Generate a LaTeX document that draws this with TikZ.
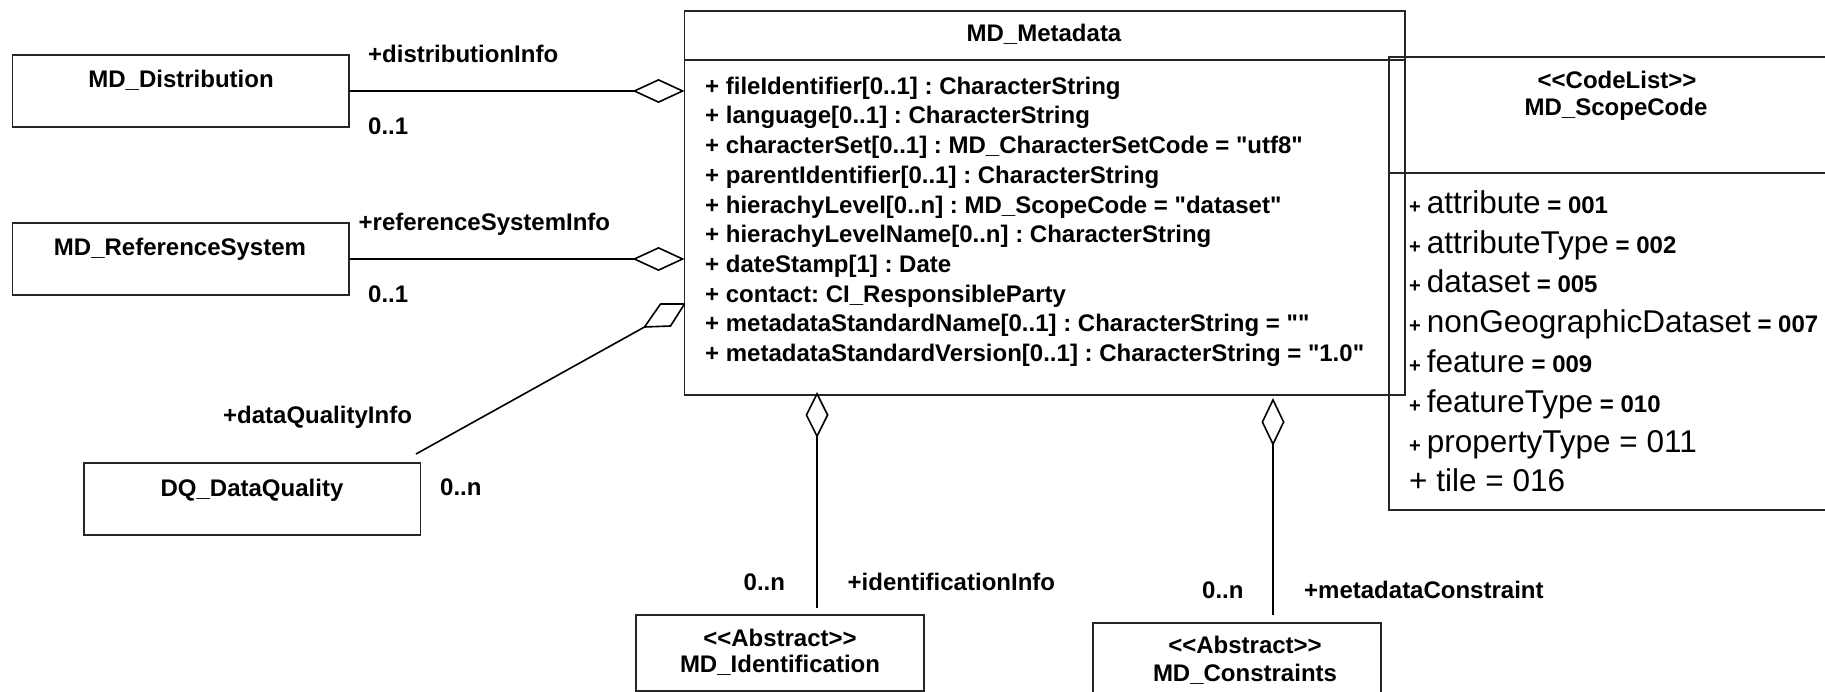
\documentclass[tikz,border=0pt]{standalone}
\usepackage{fontspec}
\setmainfont{Liberation Sans}[Ligatures=TeXOff]
\usetikzlibrary{arrows.meta}
\newcommand\umlbf{\fontsize{24}{28}\selectfont\bfseries}
\newcommand\umlrg{\fontsize{31.5}{36}\selectfont\mdseries}
\newcommand\umlpl{\fontsize{20}{24}\selectfont\bfseries}
\frenchspacing
\begin{document}
\begin{tikzpicture}[x=1pt,y=-1pt,
  box/.style={draw=black!85, line width=1.3pt, inner sep=0pt, outer sep=0pt},
  conn/.style={draw=black, line width=1.6pt},
  hagg/.style={-{Diamond[open,length=52pt,width=24pt]}},
  vagg/.style={-{Diamond[open,length=46pt,width=23pt]}},
  lbl/.style={font=\umlbf, inner sep=0pt, anchor=base west},
  ttl/.style={font=\umlbf, inner sep=0pt, anchor=base},
  att/.style={font=\umlbf, inner sep=0pt, anchor=base west},
  sat/.style={inner sep=0pt, anchor=base west}
]
\useasboundingbox (0,0) rectangle (1825,692);
\clip (0,0) rectangle (1825,692);

% boxes
\node[box, minimum width=336.5pt, minimum height=72pt] (dist) at (180.75,91) {};
\node[box, minimum width=336.5pt, minimum height=72pt] (refsys) at (180.75,259) {};
\node[box, minimum width=336.5pt, minimum height=72pt] (dq) at (252.25,499) {};
\node[box, minimum width=720.5pt, minimum height=384pt] (meta) at (1044.75,203) {};
\draw[box] ([yshift=-49pt]meta.north west) -- ([yshift=-49pt]meta.north east);
\node[box, minimum width=456pt, minimum height=453pt] (scope) at (1617,283.5) {};
\draw[box] ([yshift=-116pt]scope.north west) -- ([yshift=-116pt]scope.north east);
\node[box, minimum width=288pt, minimum height=76pt] (ident) at (780,653) {};
\node[box, minimum width=288pt, minimum height=77pt] (constr) at (1237,661.5) {};

% class names
\node[ttl] (tdist) at (181,87.3) {MD\_Distribution};
\node[ttl] (trefsys) at (180,256) {MD\_ReferenceSystem};
\node[ttl] (tdq) at (252,496) {DQ\_DataQuality};
\node[ttl] (tmeta) at (1044,41.7) {MD\_Metadata};
\node[ttl] (sident) at (780,646.7) {<{}<Abstract>{}>};
\node[ttl] (tident) at (780,672.7) {MD\_Identification};
\node[ttl] (sconstr) at (1245,653.3) {<{}<Abstract>{}>};
\node[ttl] (tconstr) at (1245,681.7) {MD\_Constraints};
\node[ttl] (sscope) at (1617,88.3) {<{}<CodeList>{}>};
\node[ttl] (tscope) at (1616,116) {MD\_ScopeCode};

% metadata attributes
\node[att] (a1) at (705,94.3) {+ fileIdentifier[0..1] : CharacterString};
\node[att] (a2) at (705,124.0) {+ language[0..1] : CharacterString};
\node[att] (a3) at (705,153.7) {+ characterSet[0..1] : MD\_CharacterSetCode = "utf8"};
\node[att] (a4) at (705,183.4) {+ parentIdentifier[0..1] : CharacterString};
\node[att] (a5) at (705,213.1) {+ hierachyLevel[0..n] : MD\_ScopeCode = "dataset"};
\node[att] (a6) at (705,242.8) {+ hierachyLevelName[0..n] : CharacterString};
\node[att] (a7) at (705,272.5) {+ dateStamp[1] : Date};
\node[att] (a8) at (705,302.2) {+ contact: CI\_ResponsibleParty};
\node[att] (a9) at (705,331.9) {+ metadataStandardName[0..1] : CharacterString = ""};
\node[att] (a10) at (705,361.6) {+ metadataStandardVersion[0..1] : CharacterString = "1.0"};

% scope code values
\node[sat] (s1) at (1409,213.3) {{\umlpl +}\hspace{6pt}{\umlrg attribute}{\umlbf\ = 001}};
\node[sat] (s2) at (1409,253.1) {{\umlpl +}\hspace{6pt}{\umlrg attributeType}{\umlbf\ = 002}};
\node[sat] (s3) at (1409,292.9) {{\umlpl +}\hspace{6pt}{\umlrg dataset}{\umlbf\ = 005}};
\node[sat] (s4) at (1409,332.7) {{\umlpl +}\hspace{6pt}{\umlrg nonGeographicDataset}{\umlbf\ = 007}};
\node[sat] (s5) at (1409,372.5) {{\umlpl +}\hspace{6pt}{\umlrg feature}{\umlbf\ = 009}};
\node[sat] (s6) at (1409,412.3) {{\umlpl +}\hspace{6pt}{\umlrg featureType}{\umlbf\ = 010}};
\node[sat] (s7) at (1409,452.1) {{\umlpl +}\hspace{6pt}{\umlrg propertyType = 011}};
\node[sat] (s8) at (1409,491.9) {{\umlrg + tile = 016}};

% connectors
\draw[conn, hagg] (dist.east) -- (dist.east -| meta.west);
\draw[conn, hagg] (refsys.east) -- (refsys.east -| meta.west);

\coordinate (dqtip) at ([yshift=-293pt]meta.north west);
\coordinate (dqend) at ([shift={(-4.5pt,9pt)}]dq.north east);
\draw[conn, line join=round] (dqtip) -- ++(-24,0) -- ++(-16,23) -- ++(26,-1) -- cycle;
\draw[conn] ([shift={(-40,23)}]dqtip) -- (dqend);

\coordinate (itip) at ([shift={(132.5pt,3pt)}]meta.south west);
\coordinate (iend) at ([shift={(37pt,7pt)}]ident.north);
\draw[conn, vagg] (iend) -- (itip);
\coordinate (ctip) at ([shift={(588.5pt,-3pt)}]meta.south west);
\coordinate (cend) at ([shift={(36pt,8pt)}]constr.north);
\draw[conn, -{Diamond[open,length=48pt,width=23pt]}] (cend) -- (ctip);

% role names and multiplicities
\node[lbl] (rdist) at (368,62.7) {+distributionInfo};
\node[lbl] (mdist) at (368,134.3) {0..1};
\node[lbl] (rref) at (358.5,230.7) {+referenceSystemInfo};
\node[lbl] (mref) at (368,302.7) {0..1};
\node[lbl] (rdq) at (223,423.3) {+dataQualityInfo};
\node[lbl] (mdq) at (440,495) {0..n};
\node[lbl] (mident) at (743.5,590.7) {0..n};
\node[lbl] (rident) at (847.5,590.7) {+identificationInfo};
\node[lbl] (mconstr) at (1202,598.3) {0..n};
\node[lbl] (rconstr) at (1304,598.3) {+metadataConstraint};
\end{tikzpicture}
\end{document}
